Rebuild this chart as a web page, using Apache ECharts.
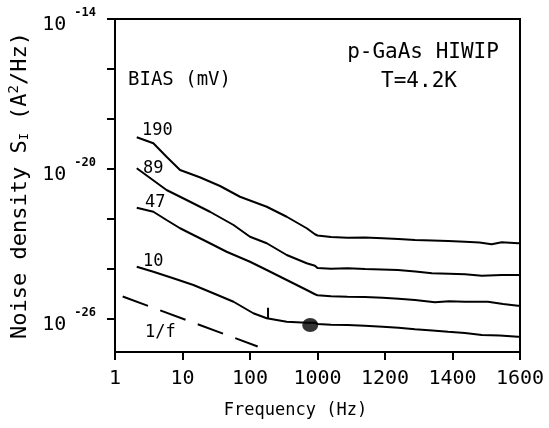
<!DOCTYPE html>
<html>
<head>
<meta charset="utf-8">
<script src="https://cdn.jsdelivr.net/npm/echarts@6/dist/echarts.min.js"></script>
<style>
  html, body { margin: 0; padding: 0; background: #fff; }
  #chart { width: 549px; height: 428px; }
</style>
</head>
<body>
<div id="chart"></div>
<script>
// x axis: log scale up to 1000 Hz, then linear 1000-1600 Hz
var tickLabels = ['1', '10', '100', '1000', '1200', '1400', '1600']
// y values are log10 of S_I (A^2/Hz)
var yTicks = [-14, -16, -18, -20, -22, -24, -26]
var yLabels = [-14, -20, -26]

var freq190 = [2.1, 3.7, 5.8, 9.2, 18, 36, 71, 177, 350, 692, 917, 1000, 1040, 1089, 1140, 1193, 1240, 1289, 1340, 1387, 1437, 1480, 1516, 1546, 1594, 1600]
var s190 = [-18.73, -18.97, -19.51, -20.04, -20.33, -20.68, -21.11, -21.51, -21.91, -22.37, -22.61, -22.66, -22.72, -22.75, -22.74, -22.77, -22.8, -22.84, -22.86, -22.88, -22.91, -22.94, -23.01, -22.93, -22.97, -22.96]

var freq89 = [2.1, 5.8, 11.5, 25.5, 57, 100, 177, 350, 692, 917, 1000, 1040, 1089, 1141, 1190, 1238, 1290, 1339, 1390, 1437, 1487, 1546, 1594, 1600]
var s89 = [-19.97, -20.84, -21.24, -21.71, -22.24, -22.71, -22.97, -23.44, -23.77, -23.87, -23.96, -23.99, -23.97, -24.0, -24.02, -24.04, -24.1, -24.17, -24.19, -24.21, -24.27, -24.24, -24.24, -24.25]

var freq47 = [2.1, 3.7, 5.8, 9.2, 12.9, 25.5, 45, 100, 177, 350, 692, 917, 1000, 1040, 1089, 1140, 1193, 1240, 1289, 1348, 1390, 1437, 1505, 1550, 1594, 1600]
var s47 = [-21.55, -21.71, -22.04, -22.37, -22.57, -22.97, -23.31, -23.71, -24.04, -24.44, -24.84, -25.01, -25.05, -25.09, -25.11, -25.12, -25.15, -25.19, -25.24, -25.33, -25.29, -25.31, -25.31, -25.4, -25.47, -25.47]

var freq10 = [2.1, 3.7, 7.3, 14.5, 28.6, 57, 112, 177, 350, 692, 917, 1000, 1040, 1089, 1140, 1193, 1240, 1289, 1340, 1387, 1437, 1487, 1540, 1594, 1600]
var s10 = [-23.91, -24.11, -24.37, -24.64, -24.97, -25.31, -25.77, -25.97, -26.11, -26.15, -26.15, -26.2, -26.23, -26.24, -26.27, -26.31, -26.35, -26.41, -26.46, -26.51, -26.56, -26.64, -26.66, -26.71, -26.71]

var spikeFreq = [185, 185]
var spikeS = [-25.55, -25.98]
var blobFreq = [780]
var blobS = [-26.24]

var oneOverFFreq = [1.3, 130]
var oneOverFS = [-25.1, -27.1]

var FONT = '"DejaVu Sans Mono", monospace'

function fpos(f) {
  return f <= 1000 ? Math.log10(f) : 3 + (f - 1000) / 200
}
function pairs(fs, ss) {
  return fs.map(function (f, i) { return [fpos(f), ss[i]] })
}
function curve(fs, ss) {
  return {
    type: 'line',
    data: pairs(fs, ss),
    showSymbol: false,
    silent: true,
    lineStyle: { color: '#000', width: 2 }
  }
}
function note(text, x, y, size, align) {
  return {
    type: 'text', x: x, y: y,
    style: { text: text, font: size + 'px ' + FONT, fill: '#000', verticalAlign: 'middle', align: align || 'left' }
  }
}

var chart = echarts.init(document.getElementById('chart'))
chart.setOption({
  backgroundColor: '#fff',
  animation: false,
  grid: {
    left: 115, right: 29, top: 19, bottom: 76,
    show: true, borderColor: '#000', borderWidth: 2,
    outerBoundsMode: 'none'
  },
  xAxis: {
    type: 'value',
    min: 0, max: 6, interval: 1,
    name: 'Frequency (Hz)',
    nameLocation: 'middle',
    nameGap: 50,
    nameTextStyle: { fontFamily: FONT, fontSize: 17, color: '#000', padding: [0, 44, 0, 0] },
    axisLine: { lineStyle: { color: '#000', width: 2 } },
    axisTick: { length: 8, lineStyle: { color: '#000', width: 2 } },
    axisLabel: {
      margin: 17,
      fontFamily: FONT, fontSize: 20, color: '#000',
      formatter: function (v) { return tickLabels[Math.round(v)] }
    },
    splitLine: { show: false }
  },
  yAxis: {
    type: 'value',
    min: -27.32, max: -14,
    name: 'Noise density S{sub|I} (A{sup|2}/Hz)',
    nameLocation: 'middle',
    nameRotate: 90,
    nameGap: 71,
    nameTextStyle: {
      fontFamily: FONT, fontSize: 22, color: '#000',
      rich: {
        sub: { fontFamily: FONT, fontSize: 12, color: '#000', padding: [10, 0, 0, 0] },
        sup: { fontFamily: FONT, fontSize: 14, color: '#000', padding: [0, 0, 12, 0] }
      }
    },
    axisLine: { show: true, lineStyle: { color: '#000', width: 2 } },
    axisTick: { length: 8, customValues: yTicks, lineStyle: { color: '#000', width: 2 } },
    axisLabel: {
      customValues: yLabels,
      margin: 19,
      formatter: function (v) { return '{b|10}{s|' + v + '}' },
      rich: {
        b: { fontFamily: FONT, fontSize: 20, color: '#000', padding: [12, 0, 0, 0] },
        s: { fontFamily: FONT, fontSize: 12, fontWeight: 'bold', color: '#000', padding: [0, 0, 12, 8] }
      }
    },
    splitLine: { show: false }
  },
  graphic: [
    note('p-GaAs HIWIP', 423, 53, 21, 'center'),
    note('T=4.2K', 419, 82, 21, 'center'),
    note('BIAS (mV)', 128, 80, 19),
    note('190', 142, 131, 17),
    note('89', 143, 169, 17),
    note('47', 145, 203, 17),
    note('10', 143, 262, 17),
    note('1/f', 145, 333, 17)
  ],
  series: [
    curve(freq190, s190),
    curve(freq89, s89),
    curve(freq47, s47),
    curve(freq10, s10),
    curve(spikeFreq, spikeS),
    {
      type: 'line',
      data: pairs(oneOverFFreq, oneOverFS),
      showSymbol: false,
      silent: true,
      lineStyle: { color: '#000', width: 2, type: [27, 13] }
    },
    {
      type: 'scatter',
      data: pairs(blobFreq, blobS),
      symbol: 'circle',
      symbolSize: [16, 14],
      silent: true,
      itemStyle: { color: '#000' }
    }
  ]
})
</script>
</body>
</html>
